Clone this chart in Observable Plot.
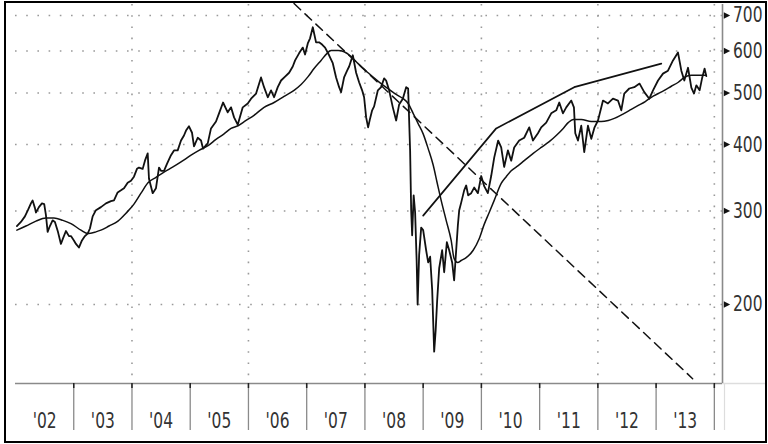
<!DOCTYPE html>
<html>
<head>
<meta charset="utf-8">
<script src="https://cdn.jsdelivr.net/npm/d3@7"></script>
<script src="https://cdn.jsdelivr.net/npm/@observablehq/plot@0.6"></script>
<style>
  html, body { margin: 0; padding: 0; background: #fff; }
  #wrap { position: relative; width: 768px; height: 444px; overflow: hidden; }
  #border { position: absolute; left: 4px; top: 1px; width: 763px; height: 442px; box-sizing: border-box; border: 2px solid #000; pointer-events: none; }
</style>
</head>
<body>
<div id="wrap"><div id="border"></div></div>
<script>
// ---- data (decimal year, index level) ----
const yearLabels = ["'02","'03","'04","'05","'06","'07","'08","'09","'10","'11","'12","'13"];
const labelYears = [2002,2003,2004,2005,2006,2007,2008,2009,2010,2011,2012,2013];
const separatorYears = [2003,2004,2005,2006,2007,2008,2009,2010,2011,2012,2013,2014];
const gridYears = [2004,2006,2008,2010,2012,2014];
const yTicks = [200,300,400,500,600,700];
const yTickLabels = ["200","300","400","500","600","700"];

const price = [
[2002.024,281],[2002.093,286],[2002.162,293],[2002.213,301],[2002.265,310],[2002.294,314],[2002.333,304],[2002.351,298],
[2002.402,305],[2002.454,310],[2002.493,309],[2002.522,295],[2002.552,274],[2002.591,281],[2002.637,288],[2002.677,286],
[2002.729,274],[2002.780,260],[2002.814,266],[2002.866,275],[2002.918,269],[2002.952,269],[2003.003,264],[2003.038,260],
[2003.089,256],[2003.141,264],[2003.192,269],[2003.239,272],[2003.278,278],[2003.325,293],[2003.381,301],[2003.467,305],
[2003.553,310],[2003.639,313],[2003.691,314],[2003.754,325],[2003.811,328],[2003.863,331],[2003.926,339],[2003.983,342],
[2004.034,348],[2004.086,360],[2004.120,362],[2004.184,360],[2004.223,373],[2004.270,385],[2004.292,345],[2004.356,324],
[2004.412,331],[2004.464,362],[2004.498,357],[2004.550,357],[2004.601,368],[2004.670,382],[2004.722,390],[2004.785,390],
[2004.842,407],[2004.893,416],[2004.928,425],[2004.979,433],[2005.031,421],[2005.065,397],[2005.129,412],[2005.186,407],
[2005.220,393],[2005.301,402],[2005.357,429],[2005.443,442],[2005.495,458],[2005.564,480],[2005.644,460],[2005.701,470],
[2005.753,450],[2005.816,436],[2005.902,470],[2005.988,478],[2006.045,488],[2006.131,499],[2006.216,535],[2006.268,513],
[2006.332,491],[2006.388,506],[2006.440,491],[2006.503,513],[2006.560,528],[2006.629,537],[2006.698,546],[2006.761,561],
[2006.801,576],[2006.869,594],[2006.933,609],[2006.972,591],[2007.019,620],[2007.058,634],[2007.105,665],[2007.161,623],
[2007.213,623],[2007.265,617],[2007.316,609],[2007.385,589],[2007.448,569],[2007.505,535],[2007.557,513],[2007.591,502],
[2007.642,535],[2007.694,551],[2007.729,561],[2007.792,589],[2007.849,546],[2007.900,524],[2007.952,506],[2007.986,491],
[2008.021,450],[2008.055,431],[2008.089,448],[2008.124,464],[2008.158,472],[2008.222,506],[2008.278,513],[2008.330,533],
[2008.364,528],[2008.416,506],[2008.479,470],[2008.536,444],[2008.588,476],[2008.651,488],[2008.708,513],[2008.742,510],
[2008.776,390],[2008.794,301],[2008.811,270],[2008.837,321],[2008.862,298],[2008.888,242],[2008.905,200],[2008.931,248],
[2008.966,279],[2009.000,276],[2009.051,253],[2009.086,240],[2009.120,246],[2009.155,213],[2009.189,163],[2009.215,179],
[2009.240,203],[2009.275,234],[2009.326,253],[2009.361,230],[2009.407,262],[2009.447,253],[2009.498,240],[2009.532,222],
[2009.596,282],[2009.619,301],[2009.653,311],[2009.704,328],[2009.739,335],[2009.773,321],[2009.825,324],[2009.876,332],
[2009.940,324],[2009.997,349],[2010.048,334],[2010.111,324],[2010.168,349],[2010.220,378],[2010.288,407],[2010.340,395],
[2010.391,363],[2010.455,390],[2010.512,373],[2010.563,395],[2010.649,407],[2010.735,412],[2010.821,431],[2010.885,407],
[2010.971,420],[2011.027,431],[2011.113,440],[2011.199,458],[2011.285,464],[2011.337,480],[2011.400,458],[2011.457,470],
[2011.543,484],[2011.589,470],[2011.612,420],[2011.658,407],[2011.715,434],[2011.766,387],[2011.830,434],[2011.887,410],
[2011.943,431],[2012.002,444],[2012.088,484],[2012.173,478],[2012.259,488],[2012.345,484],[2012.402,464],[2012.453,499],
[2012.539,510],[2012.625,513],[2012.716,521],[2012.797,502],[2012.883,488],[2012.947,506],[2013.033,528],[2013.118,544],
[2013.204,551],[2013.290,576],[2013.376,596],[2013.433,551],[2013.484,528],[2013.548,558],[2013.605,512],[2013.651,499],
[2013.691,517],[2013.747,506],[2013.789,533],[2013.833,556],[2013.862,538]
];

const movingAverage = [
[2002.024,276],[2002.179,281],[2002.351,287],[2002.522,291],[2002.660,291],[2002.814,288],[2002.952,284],[2003.124,276],
[2003.244,272],[2003.381,274],[2003.467,276],[2003.605,281],[2003.759,287],[2003.897,297],[2004.034,309],[2004.155,324],
[2004.275,339],[2004.412,347],[2004.550,355],[2004.704,363],[2004.842,371],[2005.014,382],[2005.151,390],[2005.306,398],
[2005.443,409],[2005.581,419],[2005.701,429],[2005.821,434],[2005.959,444],[2006.096,454],[2006.268,470],[2006.440,480],
[2006.612,493],[2006.783,506],[2006.904,519],[2007.024,537],[2007.127,556],[2007.247,576],[2007.350,594],[2007.419,601],
[2007.539,601],[2007.642,598],[2007.763,586],[2007.883,568],[2008.055,546],[2008.192,530],[2008.278,521],[2008.416,508],
[2008.536,497],[2008.656,488],[2008.742,478],[2008.828,458],[2008.914,438],[2009.000,419],[2009.086,393],[2009.172,366],
[2009.240,339],[2009.309,314],[2009.395,288],[2009.481,264],[2009.532,244],[2009.593,240],[2009.653,242],[2009.739,245],
[2009.859,253],[2009.962,266],[2010.048,283],[2010.134,298],[2010.220,314],[2010.340,338],[2010.426,348],[2010.512,357],
[2010.632,365],[2010.735,373],[2010.890,385],[2011.027,395],[2011.165,405],[2011.285,416],[2011.405,429],[2011.491,440],
[2011.577,446],[2011.715,446],[2011.887,442],[2012.058,442],[2012.178,444],[2012.282,448],[2012.453,458],[2012.574,466],
[2012.694,474],[2012.814,482],[2012.917,491],[2013.038,499],[2013.141,506],[2013.261,515],[2013.381,524],[2013.484,535],
[2013.605,540],[2013.725,540],[2013.862,540]
];

const channelLine = [[2009.000,294],[2010.254,429],[2011.594,513],[2013.089,568]];
const downtrend = [[2006.783,737],[2013.627,145]];

// ---- chart ----
const W = 768, H = 444, mL = 15, mR = 46, mT = 4, mB = 61;
const xDomain = [2002, 2014.14];
const yDomain = [142, 734];
const plotH = H - mT - mB, plotW = W - mL - mR;

const rightTriangle = {
  draw(ctx, size) {
    const s = Math.sqrt(size);
    ctx.moveTo(s * 0.6, 0);
    ctx.lineTo(-s * 0.6, -s * 0.6);
    ctx.lineTo(-s * 0.6, s * 0.6);
    ctx.closePath();
  }
};

const gridStyle = {stroke: "#9a9a9a", strokeWidth: 1.6, strokeDasharray: "1.6,9.6"};

const chart = Plot.plot({
  width: W, height: H,
  marginLeft: mL, marginRight: mR, marginTop: mT, marginBottom: mB,
  style: {background: "transparent", fontFamily: "'DejaVu Sans', sans-serif"},
  x: {type: "linear", domain: xDomain, axis: null},
  y: {type: "log", domain: yDomain, axis: null},
  marks: [
    Plot.ruleY(yTicks, gridStyle),
    Plot.ruleX(gridYears, gridStyle),
    Plot.ruleY([yDomain[0]], {stroke: "#8a8a8a", strokeWidth: 1.5}),
    Plot.ruleY([yDomain[0]], {stroke: "#dddddd", strokeWidth: 1.5, insetLeft: plotW, insetRight: -44}),
    Plot.ruleX([xDomain[1]], {stroke: "#8a8a8a", strokeWidth: 1.6}),
    Plot.ruleX([xDomain[1]], {stroke: "#dddddd", strokeWidth: 1.2, dx: 2, insetTop: plotH, insetBottom: -47}),
    Plot.ruleX(separatorYears, {stroke: "#8a8a8a", strokeWidth: 1.3, insetTop: plotH, insetBottom: -47}),
    Plot.ruleX(separatorYears, {stroke: "#222", strokeWidth: 1.5, insetTop: plotH, insetBottom: -5}),
    Plot.text(labelYears, {x: d => d + 0.5, text: (d, i) => yearLabels[i], frameAnchor: "bottom", lineAnchor: "middle", dy: 37.5, fontSize: 15.5, fill: "#333"}),
    Plot.dot(yTicks, {x: () => xDomain[1], y: d => d, symbol: rightTriangle, r: 3, fill: "#111", stroke: "none", dx: 4.5}),
    Plot.text(yTicks, {x: () => xDomain[1], y: d => d, text: (d, i) => yTickLabels[i], dx: 10.5, textAnchor: "start", lineAnchor: "middle", fontSize: 15.5, fill: "#333"}),
    Plot.line(downtrend, {x: d => d[0], y: d => d[1], stroke: "#111", strokeWidth: 1.5, strokeDasharray: "9,6"}),
    Plot.line(movingAverage, {x: d => d[0], y: d => d[1], stroke: "#111", strokeWidth: 1.5, curve: "monotone-x"}),
    Plot.line(channelLine, {x: d => d[0], y: d => d[1], stroke: "#111", strokeWidth: 1.7}),
    Plot.line(price, {x: d => d[0], y: d => d[1], stroke: "#111", strokeWidth: 1.8, strokeLinejoin: "round"})
  ]
});

document.getElementById("wrap").prepend(chart);

// stretch label glyphs vertically to match the tall, narrow reference lettering
chart.querySelectorAll('g[aria-label="text"] text').forEach(t => {
  let tr = t.getAttribute("transform");
  if (!tr) {
    const x = +t.getAttribute("x") || 0, y = +t.getAttribute("y") || 0;
    t.removeAttribute("x"); t.removeAttribute("y");
    tr = `translate(${x},${y})`;
  }
  t.setAttribute("transform", tr + " scale(1,1.4)");
});
</script>
</body>
</html>
